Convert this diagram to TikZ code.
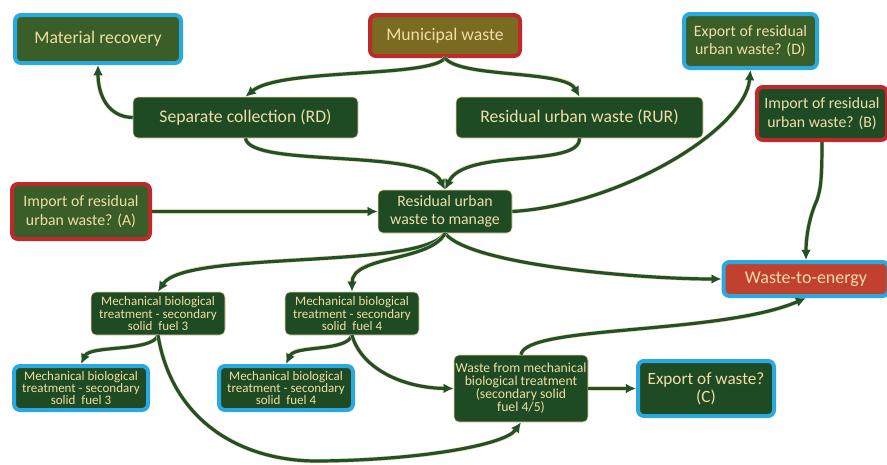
\documentclass[tikz,border=0pt]{standalone}
\usepackage{fontspec}
\setmainfont{Carlito}
\usetikzlibrary{arrows.meta}
\definecolor{dkg}{HTML}{1E4B23}
\definecolor{mdg}{HTML}{3A5E27}
\definecolor{olv}{HTML}{7B6A22}
\definecolor{rdb}{HTML}{BE2A2C}
\definecolor{blb}{HTML}{2AA8E0}
\definecolor{wtr}{HTML}{C2412E}
\definecolor{crm}{HTML}{F1DEA6}
\definecolor{lnc}{HTML}{1F5228}
\definecolor{halo}{HTML}{EED3A8}
\tikzset{
  x=1pt,y=-1pt,
  bx/.style={rounded corners=5pt, fill=dkg, draw=halo, line width=0.6pt, text=crm, align=center, inner sep=0pt},
  bluebx/.style={bx, draw=blb, line width=4pt, rounded corners=6pt},
  redbx/.style={bx, draw=rdb, line width=4pt, rounded corners=6pt},
  big/.style={font=\fontsize{17.7}{20}\selectfont},
  mid/.style={font=\fontsize{15.8}{18.5}\selectfont},
  sml/.style={font=\fontsize{13}{11}\selectfont},
  arr/.style={draw=lnc, line width=3.2pt, -{Latex[length=10pt,width=9.5pt]},
     preaction={draw=halo, line width=4.3pt, -{Latex[length=11pt,width=10.5pt]}}},
}
\begin{document}
\begin{tikzpicture}
\useasboundingbox (0,0) rectangle (887,464);
% nodes
\node[bluebx, fill=mdg, big, minimum width=166pt, minimum height=48pt] (mat) at (98,39) {Material recovery};
\node[redbx, fill=olv, big, minimum width=150pt, minimum height=41pt] (mun) at (445,35.5) {Municipal waste};
\node[bluebx, fill=mdg, mid, minimum width=133pt, minimum height=54pt] (expD) at (750.5,41) {Export of residual\\urban waste? (D)};
\node[bx, big, minimum width=225pt, minimum height=41pt] (sep) at (245.5,117.5) {Separate collection (RD)};
\node[bx, big, minimum width=247pt, minimum height=41pt] (rur) at (579.5,117.5) {Residual urban waste (RUR)};
\node[redbx, mid, minimum width=130pt, minimum height=53pt] (impB) at (822,113.5) {Import of residual\\urban waste? (B)};
\node[redbx, fill=mdg, mid, minimum width=138pt, minimum height=55pt] (impA) at (81,211.5) {Import of residual\\urban waste? (A)};
\node[bx, mid, minimum width=134pt, minimum height=43pt] (mng) at (445,211.5) {Residual urban\\waste to manage};
\node[bluebx, fill=wtr, font=\fontsize{18}{20}\selectfont, minimum width=165pt, minimum height=34pt] (wte) at (806,279) {Waste-to-energy};
\node[bx, sml, minimum width=134pt, minimum height=43pt] (m3) at (158,313.5) {Mechanical biological\\treatment - secondary\\solid\ \ fuel 3};
\node[bx, sml, minimum width=134pt, minimum height=43pt] (m4) at (352,313.5) {Mechanical biological\\treatment - secondary\\solid\ \ fuel 4};
\node[bluebx, sml, minimum width=134pt, minimum height=44pt] (b3) at (81,388) {Mechanical biological\\treatment - secondary\\solid\ \ fuel 3};
\node[bluebx, sml, minimum width=134pt, minimum height=44pt] (b4) at (286,388) {Mechanical biological\\treatment - secondary\\solid\ \ fuel 4};
\node[bx, font=\fontsize{13.7}{13}\selectfont, minimum width=134pt, minimum height=67pt] (wm) at (521,388.5) {Waste from mechanical\\biological treatment\\(secondary solid\\fuel 4/5)};
\node[bluebx, font=\fontsize{17.2}{18}\selectfont, minimum width=136pt, minimum height=55pt] (expC) at (706,388.5) {Export of waste?\\(C)};
% connectors
\draw[arr] (mun.south) .. controls (430,78) and (280,68) .. (sep.north);
\draw[arr] (mun.south) .. controls (460,78) and (565,70) .. (rur.north);
\draw[arr] (sep.west) .. controls (108,117) and (98,95) .. (mat.south);
\draw[arr] (sep.south) .. controls (250,168) and (425,148) .. (mng.north);
\draw[arr] (rur.south) .. controls (580,168) and (465,148) .. (mng.north);
\draw[arr] (impA.east) -- (mng.west);
\draw[arr] (mng.east) .. controls (620,205) and (745,130) .. (expD.south);
\coordinate (kink) at (817,200);
\draw[arr] (impB.south) .. controls (822,185) and (820,190) .. (kink) .. controls (810,215) and (806,235) .. (wte.north);
\draw[arr] (mng.south) .. controls (470,265) and (640,279) .. (wte.west);
\draw[arr] (mng.south) .. controls (420,270) and (185,250) .. (m3.north);
\draw[arr] (mng.south) .. controls (430,262) and (352,255) .. (m4.north);
\draw[arr] (m3.south) .. controls (152,352) and (90,345) .. (b3.north);
\draw[arr] (m4.south) .. controls (346,352) and (295,345) .. (b4.north);
\draw[arr] (m4.south) .. controls (362,370) and (405,388) .. (wm.west);
\coordinate (low) at (320,461);
\draw[arr] (m3.south) .. controls (172,420) and (240,462) .. (low) .. controls (420,460) and (505,445) .. (wm.south);
\draw[arr] (wm.north) .. controls (525,325) and (720,335) .. (wte.south);
\draw[arr] (wm.east) -- (expC.west);
\end{tikzpicture}
\end{document}
